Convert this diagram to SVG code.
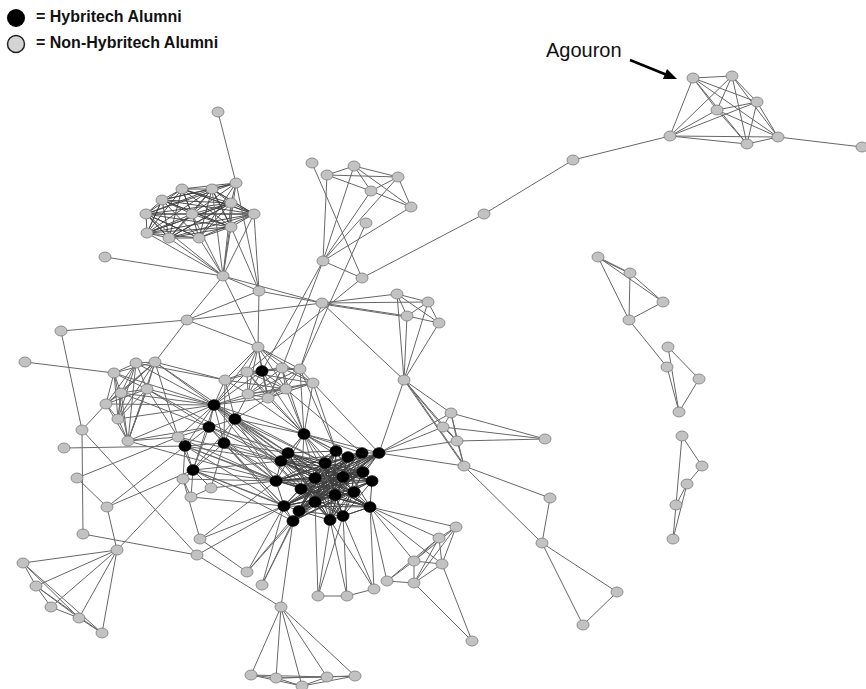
<svg xmlns="http://www.w3.org/2000/svg" xmlns:xlink="http://www.w3.org/1999/xlink" width="866" height="689" viewBox="0 0 866 689">
<style>
.e{fill:none;stroke:#676767;stroke-width:1;stroke-linejoin:round}
.d{fill:none;stroke:#404040;stroke-width:0.9;stroke-linejoin:round}
.lg{font-family:"Liberation Sans",Arial,sans-serif;font-weight:bold;font-size:16px;fill:#111}
.lb{font-family:"Liberation Sans",Arial,sans-serif;font-size:20px;fill:#111}
</style>
<defs>
<ellipse id="nd" rx="6" ry="5" fill="#c2c2c2" stroke="#7a7a7a" stroke-width="0.8"/>
<ellipse id="nh" rx="6" ry="5.3" fill="#000" stroke="#000" stroke-width="0.8"/>
</defs>
<rect width="866" height="689" fill="#fff"/>
<g id="connectors">
<path class="e" d="M693,78 L732,76 757,102 717,110 670,136 747,144 778,137 693,78 757,102 670,136 778,137 732,76 717,110 747,144 693,78 717,110 778,137 757,102 747,144 732,76 670,136 693,78 M778,137 L862,147 M670,136 L573,160 484,214 362,278"/>
<path class="e" d="M327,175 L354,166 M327,175 L398,177 M354,166 L398,177 M327,175 L371,191 411,207 M354,166 L371,191 M354,166 L411,207 M398,177 L371,191 M398,177 L411,207 M327,175 L323,261 M354,166 L323,261 M371,191 L323,261 M398,177 L323,261 M411,207 L323,261 M312,163 L362,278 M323,261 L362,278 M366,223 L300,369 M323,261 L262,371 M362,278 L247,372"/>
<path class="e" d="M322,303 L397,294 M322,303 L407,316 M322,304 L407,317 M322,303 L428,302 M397,294 L428,302 M397,294 L407,316 M397,294 L439,323 M428,302 L407,316 M428,302 L439,323 M407,316 L439,323 M404,380 L397,294 M404,380 L428,302 M404,380 L407,316 M404,380 L439,323 M322,303 L404,380 M322,303 L223,276 M322,303 L259,291 M322,303 L187,320 M322,303 L300,369 M323,261 L282,368"/>
<path class="d" d="M236,183 L182,189 212,189 162,200 231,203 146,214 192,214 254,214 231,227 147,233 169,238 199,238 236,183 M236,183 L212,189 231,203 192,214 231,227 169,238 182,189 162,200 146,214 254,214 147,233 199,238 212,189 M236,183 L162,200 192,214 147,233 182,189 231,203 254,214 169,238 212,189 146,214 231,227 199,238 162,200 M236,183 L231,203 231,227 182,189 146,214 147,233 212,189 192,214 169,238 162,200 254,214 199,238 231,203 M236,183 L146,214 169,238 231,203 147,233 162,200 231,227 212,189 254,214 182,189 192,214 199,238 146,214 M236,183 L192,214 182,189 254,214 212,189 231,227 162,200 147,233 231,203 169,238 146,214 199,238"/>
<path class="e" d="M218,112 L236,183 M223,276 L147,233 M223,276 L169,238 M223,276 L199,238 M223,276 L231,227 M223,276 L231,203 M223,276 L212,189 M223,276 L254,214 M223,276 L146,214 M223,276 L192,214 M223,276 L236,183 M254,214 L259,291 M231,227 L259,291 M236,183 L259,291 M105,257 L223,276 M223,276 L259,291 M223,276 L187,320 M259,291 L187,320 M187,320 L61,331 M61,331 L82,430 M187,320 L155,362 M187,320 L258,347 M259,291 L258,347 M223,276 L258,347"/>
<path class="e" d="M136,363 L155,362 114,373 121,393 147,389 106,404 118,419 128,441 136,363 M136,363 L114,373 147,389 118,419 155,362 121,393 106,404 128,441 155,362 M136,363 L121,393 118,419 114,373 106,404 155,362 147,389 128,441 114,373 M136,363 L106,404 121,393 128,441 147,389 136,363 118,419 121,393 155,362"/>
<path class="e" d="M214,405 L136,363 M214,405 L155,362 M214,405 L114,373 M214,405 L121,393 M214,405 L147,389 M214,405 L106,404 M214,405 L118,419 M214,405 L128,441 M209,427 L128,441 M209,427 L147,389 M209,427 L121,393 M25,362 L114,373 M155,362 L225,380 M136,363 L225,380 M155,362 L178,437 M128,441 L178,437 M147,389 L178,437 M106,404 L82,430 M82,430 L83,534 M64,448 L185,446 M77,478 L178,437 M77,478 L107,507 M107,507 L185,446 M107,507 L193,470 M107,507 L117,550 M82,430 L197,555 M183,479 L200,539"/>
<path class="e" d="M178,437 L214,405 M178,437 L209,427 M178,437 L185,446 M178,437 L193,470 M178,437 L281,461 M178,437 L276,481 M183,479 L185,446 M183,479 L193,470 M183,479 L191,497 M191,497 L211,488 M191,497 L193,470 M211,488 L193,470 M211,488 L224,443 M211,488 L276,481 M183,479 L276,481 M191,497 L284,506 M193,470 L117,550 M128,441 L276,481 M147,389 L281,461 M155,362 L288,453"/>
<path class="e" d="M258,347 L225,380 M258,347 L247,372 M258,347 L262,371 M258,347 L282,368 M258,347 L300,369 M258,347 L248,394 M258,347 L268,398 M258,347 L286,389 M258,347 L313,383 M225,380 L247,372 262,371 282,368 300,369 313,383 286,389 268,398 248,394 225,380 M247,372 L248,394 262,371 268,398 282,368 286,389 300,369 M225,380 L262,371 286,389 247,372 268,398 300,369 248,394 282,368 313,383 268,398 M225,380 L286,389 248,394 313,383 247,372 282,368 268,398 262,371 300,369"/>
<path class="e" d="M304,434 L247,372 M304,434 L262,371 M304,434 L282,368 M304,434 L300,369 M304,434 L248,394 M304,434 L268,398 M304,434 L286,389 M304,434 L313,383 M313,383 L379,453 M286,389 L362,453 M313,383 L336,451 M300,369 L336,451 M214,405 L225,380 M214,405 L247,372 M214,405 L248,394 M214,405 L262,371 M214,405 L258,347 M214,405 L268,398 M214,405 L286,389 M235,419 L248,394 M235,419 L268,398 M235,419 L225,380 M225,380 L224,443"/>
<path class="e" d="M214,405 L235,419 M214,405 L209,427 M214,405 L224,443 M214,405 L185,446 M214,405 L193,470 M235,419 L209,427 M235,419 L224,443 M235,419 L193,470 M209,427 L224,443 M209,427 L185,446 M209,427 L193,470 M224,443 L185,446 M224,443 L193,470 M185,446 L193,470"/>
<path class="e" d="M214,405 L304,434 M214,405 L288,453 M214,405 L281,461 M214,405 L276,481 M214,405 L301,489 M214,405 L315,478 M214,405 L325,463 M235,419 L288,453 M235,419 L281,461 M235,419 L276,481 M235,419 L315,478 M235,419 L301,489 M235,419 L325,463 M235,419 L304,434 M209,427 L281,461 M209,427 L276,481 M209,427 L284,506 M209,427 L288,453 M224,443 L276,481 M224,443 L301,489 M224,443 L284,506 M224,443 L293,521 M224,443 L281,461 M224,443 L288,453 M185,446 L276,481 M185,446 L284,506 M185,446 L281,461 M185,446 L301,489 M193,470 L276,481 M193,470 L284,506 M193,470 L293,521 M193,470 L299,511 M193,470 L281,461"/>
<path class="d" d="M288,453 L336,451 276,481 362,453 301,489 363,472 284,506 343,477 293,521 372,481 281,461 354,492 299,511 379,453 315,478 370,507 315,502 348,457 330,520 325,463 343,516 335,495 M281,461 L325,463 372,481 288,453 343,477 299,511 362,453 335,495 276,481 370,507 336,451 293,521 363,472 315,478 343,516 301,489 379,453 284,506 354,492 348,457 315,502 330,520 M276,481 L348,457 299,511 363,472 288,453 335,495 372,481 315,502 336,451 284,506 370,507 325,463 293,521 354,492 281,461 343,516 362,453 315,478 379,453 330,520 343,477 301,489"/>
<path class="d" d="M284,506 L325,463 362,453 293,521 343,477 281,461 370,507 301,489 348,457 276,481 372,481 315,478 330,520 288,453 354,492 315,502 379,453 335,495 336,451 299,511 343,516 363,472 M288,453 L281,461 276,481 284,506 293,521 299,511 330,520 343,516 370,507 372,481 363,472 379,453 362,453 348,457 336,451 325,463 315,478 301,489 315,502 335,495 354,492 343,477 325,463 M336,451 L301,489 330,520 362,453 315,502 288,453 370,507 315,478 348,457 293,521 325,463 354,492 276,481 379,453 299,511 343,477 284,506 363,472 281,461 335,495 343,516 372,481"/>
<path class="d" d="M348,457 L299,511 336,451 315,502 363,472 276,481 343,477 288,453 372,481 301,489 362,453 284,506 379,453 293,521 315,478 281,461 330,520 354,492 325,463 335,495 370,507 343,516 M379,453 L343,477 276,481 363,472 299,511 362,453 281,461 372,481 293,521 348,457 301,489 370,507 288,453 330,520 336,451 315,478 354,492 284,506 335,495 325,463 315,502 343,516"/>
<path class="e" d="M304,434 L288,453 M304,434 L281,461 M304,434 L336,451 M304,434 L348,457 M304,434 L362,453 M304,434 L325,463 M304,434 L276,481 M304,434 L315,478 M304,434 L343,477 M304,434 L301,489 M304,434 L335,495 M304,434 L363,472 M304,434 L379,453"/>
<path class="e" d="M293,521 L281,607 M330,520 L318,596 M330,520 L347,596 M330,520 L374,589 M343,516 L318,596 M343,516 L347,596 M343,516 L374,589 M315,502 L318,596 M370,507 L374,589 M370,507 L387,581 M370,507 L414,561 M370,507 L439,538 M370,507 L456,527 M370,507 L442,564 M200,539 L276,481 M200,539 L284,506 M197,555 L284,506 M247,572 L284,506 M247,572 L293,521 M247,572 L299,511 M262,585 L293,521 M262,585 L299,511 M262,585 L284,506 M200,539 L247,572 M83,534 L197,555 M197,555 L281,607"/>
<path class="e" d="M379,453 L404,380 M379,453 L451,413 M379,453 L443,427 M379,453 L457,441 M379,453 L464,466 M404,380 L451,413 M404,380 L443,427 M404,380 L457,441 M404,380 L464,466 M405,380 L465,466 M451,413 L443,427 M451,413 L457,441 M443,427 L457,441 M451,413 L464,466 M457,441 L464,466 M451,413 L545,439 M443,427 L545,439 M457,441 L545,439 M464,466 L550,498 M464,466 L542,543 M550,498 L542,543 M542,543 L617,592 M542,543 L583,625 M617,592 L583,625"/>
<path class="e" d="M387,581 L414,561 M387,581 L414,583 M387,581 L439,538 M414,583 L414,561 M414,561 L442,564 M414,561 L439,538 M414,561 L456,527 M414,583 L442,564 M442,564 L439,538 M442,564 L456,527 M439,538 L456,527 M414,583 L439,538 M414,583 L472,641 M442,564 L472,641 M414,583 L456,527 M318,596 L347,596 374,589"/>
<path class="e" d="M281,607 L251,675 M281,607 L276,678 M281,607 L302,686 M281,607 L327,677 M281,607 L355,676 M251,675 L276,678 302,686 327,677 355,676 M251,675 L302,686 M276,678 L327,677 M302,686 L355,676 M251,675 L327,677 M276,678 L355,676 M117,550 L23,563 M117,550 L36,586 M117,550 L51,607 M117,550 L79,618 M117,550 L102,633 M23,563 L36,586 51,607 79,618 102,633 M23,563 L79,618 M23,563 L102,633 M36,586 L79,618 M36,586 L102,633"/>
<path class="e" d="M598,257 L630,273 663,302 629,320 598,257 M598,258 L631,274 M630,273 L629,320 M598,257 L663,302 M629,320 L667,367 M668,347 L699,379 679,412 667,367 M668,347 L679,412 M682,436 L702,466 687,484 676,505 682,436 M687,484 L673,539 676,505"/>
</g>
<g id="nodes">
<g id="A1"><use href="#nd" x="693" y="78"/></g>
<g id="A2"><use href="#nd" x="732" y="76"/></g>
<g id="A3"><use href="#nd" x="757" y="102"/></g>
<g id="A4"><use href="#nd" x="717" y="110"/></g>
<g id="A5"><use href="#nd" x="670" y="136"/></g>
<g id="A6"><use href="#nd" x="747" y="144"/></g>
<g id="A7"><use href="#nd" x="778" y="137"/></g>
<g id="A8"><use href="#nd" x="862" y="147"/></g>
<g id="A9"><use href="#nd" x="573" y="160"/></g>
<g id="B1"><use href="#nd" x="312" y="163"/></g>
<g id="B2"><use href="#nd" x="327" y="175"/></g>
<g id="B3"><use href="#nd" x="354" y="166"/></g>
<g id="B4"><use href="#nd" x="398" y="177"/></g>
<g id="B5"><use href="#nd" x="371" y="191"/></g>
<g id="B6"><use href="#nd" x="411" y="207"/></g>
<g id="B7"><use href="#nd" x="366" y="223"/></g>
<g id="B8"><use href="#nd" x="323" y="261"/></g>
<g id="B9"><use href="#nd" x="362" y="278"/></g>
<g id="B10"><use href="#nd" x="484" y="214"/></g>
<g id="B12"><use href="#nd" x="322" y="303"/></g>
<g id="B13"><use href="#nd" x="397" y="294"/></g>
<g id="B14"><use href="#nd" x="428" y="302"/></g>
<g id="B15"><use href="#nd" x="407" y="316"/></g>
<g id="B16"><use href="#nd" x="439" y="323"/></g>
<g id="C0"><use href="#nd" x="218" y="112"/></g>
<g id="C1"><use href="#nd" x="236" y="183"/></g>
<g id="C2"><use href="#nd" x="182" y="189"/></g>
<g id="C3"><use href="#nd" x="212" y="189"/></g>
<g id="C4"><use href="#nd" x="162" y="200"/></g>
<g id="C5"><use href="#nd" x="231" y="203"/></g>
<g id="C6"><use href="#nd" x="146" y="214"/></g>
<g id="C7"><use href="#nd" x="192" y="214"/></g>
<g id="C8"><use href="#nd" x="254" y="214"/></g>
<g id="C9"><use href="#nd" x="231" y="227"/></g>
<g id="C10"><use href="#nd" x="147" y="233"/></g>
<g id="C11"><use href="#nd" x="169" y="238"/></g>
<g id="C12"><use href="#nd" x="199" y="238"/></g>
<g id="C13"><use href="#nd" x="105" y="257"/></g>
<g id="C14"><use href="#nd" x="223" y="276"/></g>
<g id="C15"><use href="#nd" x="259" y="291"/></g>
<g id="C16"><use href="#nd" x="187" y="320"/></g>
<g id="C17"><use href="#nd" x="61" y="331"/></g>
<g id="D0"><use href="#nd" x="258" y="347"/></g>
<g id="D1"><use href="#nd" x="25" y="362"/></g>
<g id="D2"><use href="#nd" x="136" y="363"/></g>
<g id="D3"><use href="#nd" x="155" y="362"/></g>
<g id="D4"><use href="#nd" x="114" y="373"/></g>
<g id="D5"><use href="#nd" x="121" y="393"/></g>
<g id="D6"><use href="#nd" x="147" y="389"/></g>
<g id="D7"><use href="#nd" x="106" y="404"/></g>
<g id="D8"><use href="#nd" x="118" y="419"/></g>
<g id="D9"><use href="#nd" x="128" y="441"/></g>
<g id="D10"><use href="#nd" x="82" y="430"/></g>
<g id="D11"><use href="#nd" x="64" y="448"/></g>
<g id="D12"><use href="#nd" x="77" y="478"/></g>
<g id="D13"><use href="#nd" x="107" y="507"/></g>
<g id="D14"><use href="#nd" x="178" y="437"/></g>
<g id="D15"><use href="#nd" x="183" y="479"/></g>
<g id="D16"><use href="#nd" x="191" y="497"/></g>
<g id="D17"><use href="#nd" x="211" y="488"/></g>
<g id="D18"><use href="#nd" x="225" y="380"/></g>
<g id="D19"><use href="#nd" x="247" y="372"/></g>
<g id="D20"><use href="#nd" x="282" y="368"/></g>
<g id="D21"><use href="#nd" x="300" y="369"/></g>
<g id="D22"><use href="#nd" x="248" y="394"/></g>
<g id="D23"><use href="#nd" x="268" y="398"/></g>
<g id="D24"><use href="#nd" x="286" y="389"/></g>
<g id="D25"><use href="#nd" x="313" y="383"/></g>
<g id="E1"><use href="#nd" x="404" y="380"/></g>
<g id="E2"><use href="#nd" x="451" y="413"/></g>
<g id="E3"><use href="#nd" x="443" y="427"/></g>
<g id="E4"><use href="#nd" x="457" y="441"/></g>
<g id="E5"><use href="#nd" x="545" y="439"/></g>
<g id="E6"><use href="#nd" x="464" y="466"/></g>
<g id="E7"><use href="#nd" x="550" y="498"/></g>
<g id="K1"><use href="#nd" x="542" y="543"/></g>
<g id="K2"><use href="#nd" x="617" y="592"/></g>
<g id="K3"><use href="#nd" x="583" y="625"/></g>
<g id="F1"><use href="#nd" x="83" y="534"/></g>
<g id="F2"><use href="#nd" x="117" y="550"/></g>
<g id="F3"><use href="#nd" x="23" y="563"/></g>
<g id="F4"><use href="#nd" x="36" y="586"/></g>
<g id="F5"><use href="#nd" x="51" y="607"/></g>
<g id="F6"><use href="#nd" x="79" y="618"/></g>
<g id="F7"><use href="#nd" x="102" y="633"/></g>
<g id="F8"><use href="#nd" x="200" y="539"/></g>
<g id="F9"><use href="#nd" x="197" y="555"/></g>
<g id="F10"><use href="#nd" x="247" y="572"/></g>
<g id="F11"><use href="#nd" x="262" y="585"/></g>
<g id="F12"><use href="#nd" x="281" y="607"/></g>
<g id="G1"><use href="#nd" x="251" y="675"/></g>
<g id="G2"><use href="#nd" x="276" y="678"/></g>
<g id="G3"><use href="#nd" x="302" y="686"/></g>
<g id="G4"><use href="#nd" x="327" y="677"/></g>
<g id="G5"><use href="#nd" x="355" y="676"/></g>
<g id="I1"><use href="#nd" x="318" y="596"/></g>
<g id="I2"><use href="#nd" x="347" y="596"/></g>
<g id="I3"><use href="#nd" x="374" y="589"/></g>
<g id="J1"><use href="#nd" x="387" y="581"/></g>
<g id="J2"><use href="#nd" x="414" y="583"/></g>
<g id="J3"><use href="#nd" x="414" y="561"/></g>
<g id="J4"><use href="#nd" x="442" y="564"/></g>
<g id="J5"><use href="#nd" x="439" y="538"/></g>
<g id="J6"><use href="#nd" x="456" y="527"/></g>
<g id="J7"><use href="#nd" x="472" y="641"/></g>
<g id="L1"><use href="#nd" x="598" y="257"/></g>
<g id="L2"><use href="#nd" x="630" y="273"/></g>
<g id="L3"><use href="#nd" x="663" y="302"/></g>
<g id="L4"><use href="#nd" x="629" y="320"/></g>
<g id="L5"><use href="#nd" x="668" y="347"/></g>
<g id="L6"><use href="#nd" x="667" y="367"/></g>
<g id="L7"><use href="#nd" x="699" y="379"/></g>
<g id="L8"><use href="#nd" x="679" y="412"/></g>
<g id="L9"><use href="#nd" x="682" y="436"/></g>
<g id="L10"><use href="#nd" x="702" y="466"/></g>
<g id="L11"><use href="#nd" x="687" y="484"/></g>
<g id="L12"><use href="#nd" x="676" y="505"/></g>
<g id="L13"><use href="#nd" x="673" y="539"/></g>
<g id="H1"><use href="#nh" x="262" y="371"/></g>
<g id="H2"><use href="#nh" x="214" y="405"/></g>
<g id="H3"><use href="#nh" x="235" y="419"/></g>
<g id="H4"><use href="#nh" x="209" y="427"/></g>
<g id="H5"><use href="#nh" x="224" y="443"/></g>
<g id="H6"><use href="#nh" x="185" y="446"/></g>
<g id="H7"><use href="#nh" x="193" y="470"/></g>
<g id="M1"><use href="#nh" x="304" y="434"/></g>
<g id="M2"><use href="#nh" x="288" y="453"/></g>
<g id="M3"><use href="#nh" x="281" y="461"/></g>
<g id="M4"><use href="#nh" x="336" y="451"/></g>
<g id="M5"><use href="#nh" x="348" y="457"/></g>
<g id="M6"><use href="#nh" x="362" y="453"/></g>
<g id="M7"><use href="#nh" x="379" y="453"/></g>
<g id="M8"><use href="#nh" x="325" y="463"/></g>
<g id="M9"><use href="#nh" x="363" y="472"/></g>
<g id="M10"><use href="#nh" x="276" y="481"/></g>
<g id="M11"><use href="#nh" x="315" y="478"/></g>
<g id="M12"><use href="#nh" x="343" y="477"/></g>
<g id="M13"><use href="#nh" x="372" y="481"/></g>
<g id="M14"><use href="#nh" x="301" y="489"/></g>
<g id="M15"><use href="#nh" x="354" y="492"/></g>
<g id="M16"><use href="#nh" x="335" y="495"/></g>
<g id="M17"><use href="#nh" x="315" y="502"/></g>
<g id="M18"><use href="#nh" x="284" y="506"/></g>
<g id="M19"><use href="#nh" x="299" y="511"/></g>
<g id="M20"><use href="#nh" x="370" y="507"/></g>
<g id="M21"><use href="#nh" x="293" y="521"/></g>
<g id="M22"><use href="#nh" x="330" y="520"/></g>
<g id="M23"><use href="#nh" x="343" y="516"/></g>
</g>
<g id="legend">
<circle cx="16" cy="18" r="9" fill="#000"/>
<circle cx="16" cy="44" r="8.5" fill="#d4d4d4" stroke="#222" stroke-width="1.5"/>
<text class="lg" x="36" y="22">= Hybritech Alumni</text>
<text class="lg" x="36" y="48">= Non-Hybritech Alumni</text>
</g>
<g id="agouron-label">
<text class="lb" x="546" y="57">Agouron</text>
<line x1="630" y1="60" x2="667" y2="75" stroke="#000" stroke-width="2.5"/>
<polygon points="677,79 663,79 667,69" fill="#000"/>
</g>
</svg>
